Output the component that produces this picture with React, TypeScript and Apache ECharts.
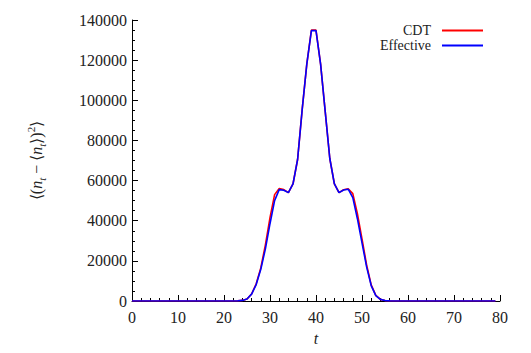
import React, { useEffect, useRef } from "react";
import * as echarts from "echarts";

const tValues: number[] = Array.from({ length: 80 }, (_, i) => i);

const zerosBefore: number[] = new Array(23).fill(0);
const zerosAfter: number[] = new Array(23).fill(0);

// t = 23 .. 56
const effectiveMid: number[] = [
  60, 300, 1000, 3400, 8200, 15800, 26000, 38500, 50000, 55500, 55200, 54000,
  58300, 70500, 95500, 118000, 134700, 134700, 118000, 94500, 71000, 58300,
  54000, 55300, 55700, 51500, 41000, 29000, 17000, 7700, 2700, 800, 200, 40,
];
const cdtMid: number[] = [
  60, 300, 1000, 3500, 8600, 16500, 28000, 41500, 53000, 56000, 55500, 54000,
  58300, 70500, 95500, 118000, 135000, 135000, 118000, 94500, 71000, 58300,
  54000, 55400, 55900, 53500, 43500, 31000, 18000, 8000, 2800, 800, 200, 40,
];

const effective: number[] = [...zerosBefore, ...effectiveMid, ...zerosAfter];
const cdt: number[] = [...zerosBefore, ...cdtMid, ...zerosAfter];

const seriesNames: string[] = ["CDT", "Effective"];

const SERIF = "Liberation Serif";

export default function App() {
  const ref = useRef<HTMLDivElement>(null);
  useEffect(() => {
    if (!ref.current) return;
    const chart = echarts.init(ref.current, null, { renderer: "svg" });
    const toPairs = (arr: number[]) => tValues.map((t, i) => [t, arr[i]]);
    chart.setOption({
      animation: false,
      backgroundColor: "#ffffff",
      textStyle: { fontFamily: SERIF },
      grid: {
        left: 132,
        right: 31,
        top: 20,
        bottom: 52,
        outerBoundsMode: "none",
      },
      legend: {
        orient: "vertical",
        right: 48,
        top: 23,
        padding: 0,
        align: "right",
        icon: "rect",
        itemWidth: 41,
        itemHeight: 2,
        itemGap: 0,
        data: seriesNames,
        formatter: "{a|{name}}",
        textStyle: {
          fontFamily: SERIF,
          fontSize: 14,
          color: "#222",
          lineHeight: 15,
          rich: {
            a: {
              fontFamily: SERIF,
              fontSize: 14,
              color: "#222",
              lineHeight: 15,
              padding: [0, 6, 0, 0],
            },
          },
        },
      },
      xAxis: {
        type: "value",
        min: 0,
        max: 80,
        interval: 10,
        name: "t",
        nameLocation: "middle",
        nameGap: 29,
        nameTextStyle: {
          fontFamily: SERIF,
          fontSize: 16,
          fontStyle: "italic",
          color: "#222",
        },
        axisLine: { show: true, lineStyle: { color: "#000", width: 1 } },
        axisTick: { show: true, inside: true, length: 6, lineStyle: { color: "#000" } },
        minorTick: { show: true, splitNumber: 5, length: 3, lineStyle: { color: "#000" } },
        splitLine: { show: false },
        axisLabel: {
          fontFamily: SERIF,
          fontSize: 16,
          color: "#222",
          margin: 8,
          formatter: (v: number) => String(v),
        },
      },
      yAxis: {
        type: "value",
        min: 0,
        max: 140000,
        interval: 20000,
        name:
          "{n|⟨(}{i|n}{s|t}{n| − ⟨}{i|n}{s|t}{n|⟩)}{p|2}{n|⟩}",
        nameLocation: "middle",
        nameRotate: 90,
        nameGap: 85,
        nameTextStyle: {
          color: "#222",
          rich: {
            n: { fontFamily: SERIF, fontSize: 16, lineHeight: 22, color: "#222" },
            i: { fontFamily: SERIF, fontSize: 16, fontStyle: "italic", lineHeight: 22, color: "#222" },
            s: { fontFamily: SERIF, fontSize: 11, fontStyle: "italic", verticalAlign: "bottom", lineHeight: 22, color: "#222" },
            p: { fontFamily: SERIF, fontSize: 11, verticalAlign: "top", lineHeight: 22, color: "#222" },
          },
        },
        axisLine: { show: true, lineStyle: { color: "#000", width: 1 } },
        axisTick: { show: true, inside: true, length: 6, lineStyle: { color: "#000" } },
        minorTick: { show: true, splitNumber: 4, length: 3, lineStyle: { color: "#000" } },
        splitLine: { show: false },
        axisLabel: {
          fontFamily: SERIF,
          fontSize: 16,
          color: "#222",
          margin: 5,
          formatter: (v: number) => String(v),
        },
      },
      series: [
        {
          name: seriesNames[0],
          type: "line",
          data: toPairs(cdt),
          showSymbol: false,
          symbol: "none",
          lineStyle: { color: "#ff0000", width: 1.6 },
          itemStyle: { color: "#ff0000" },
          z: 2,
        },
        {
          name: seriesNames[1],
          type: "line",
          data: toPairs(effective),
          showSymbol: false,
          symbol: "none",
          lineStyle: { color: "#0000ff", width: 1.6 },
          itemStyle: { color: "#0000ff" },
          z: 3,
        },
      ],
    });
    return () => chart.dispose();
  }, []);
  return (
    <div
      ref={ref}
      style={{ position: "fixed", left: 0, top: 0, width: 531, height: 353 }}
    />
  );
}
